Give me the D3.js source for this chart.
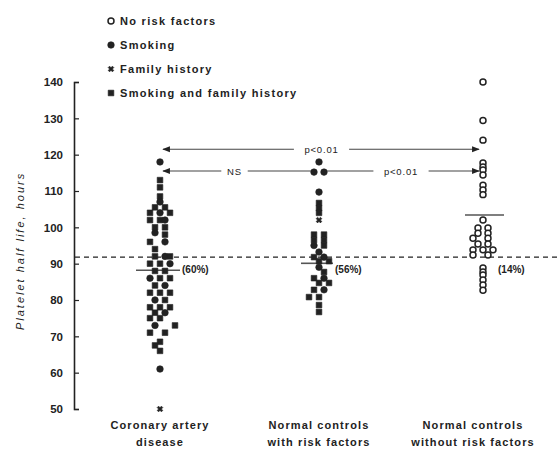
<!DOCTYPE html>
<html>
<head>
<meta charset="utf-8">
<script src="https://cdn.jsdelivr.net/npm/d3@7"></script>
<style>
  body { margin: 0; background: #fff; }
  text { font-family: "Liberation Sans", Arial, sans-serif; fill: #222; }
</style>
</head>
<body>
<div id="content"></div>
<script>
// groups along the x axis
const groups = ["cad", "withRisk", "withoutRisk"]
const groupLabels = [
    ["Coronary artery", "disease", "(52)"],
    ["Normal controls", "with risk factors", "(35)"],
    ["Normal controls", "without risk factors", "(30)"],
]
const groupMeans = [88.2, 90.1, 103.4]
const groupPercent = ["(60%)", "(56%)", "(14%)"]

// points: [value, slot (side-by-side position), risk type]
const cadPoints = [
    [118, 0, "smoke"],
    [113, 0, "both"], [111, 0, "both"], [108.5, 0, "both"], [107, 0, "smoke"],
    [105.5, -1, "both"], [105.5, 1, "both"],
    [104, -2, "both"], [104, 0, "smoke"], [104, 2, "both"],
    [102, -2, "both"], [102, 0, "both"], [102, 1, "smoke"],
    [100, -1, "both"], [100, 1, "both"],
    [98.5, -1, "smoke"], [98, 1, "both"],
    [96, -2, "both"], [96, 1, "smoke"],
    [94, -1, "both"],
    [92, -1, "both"], [92, 1, "smoke"], [92, 2, "both"],
    [90, -2, "both"], [90, 0, "both"], [90, 2, "smoke"],
    [88, -1, "both"], [88, 1, "both"],
    [86, -2, "smoke"], [86, 0, "both"], [86, 2, "both"],
    [84, -1, "both"], [84, 1, "smoke"],
    [82, -2, "both"], [82, 0, "both"], [82, 2, "both"],
    [80, -1, "smoke"], [80, 1, "both"],
    [78, -2, "both"], [78, 0, "both"], [78, 2, "both"],
    [76.5, -1, "both"], [76.5, 1, "smoke"],
    [75, -2, "both"], [75, 0, "both"],
    [73, -1, "smoke"], [73, 3, "both"],
    [71, -2, "both"], [71, 1, "both"],
    [68.5, 0, "both"], [67.5, -1, "both"], [66, 0, "both"],
    [61, 0, "smoke"],
    [50, 0, "family"],
]
const withRiskPoints = [
    [118, 0, "smoke"],
    [115.2, -1, "smoke"], [115.2, 1, "smoke"],
    [109.7, 0, "smoke"],
    [106.7, 0, "both"], [105.3, 0, "both"], [104, 0, "both"], [102, 0, "family"],
    [98, -1, "both"], [98, 1, "both"],
    [96.5, -1, "both"], [96.5, 1, "both"],
    [95, -1, "smoke"], [95, 1, "both"],
    [93.2, 0, "smoke"],
    [91.8, -1, "both"], [91.8, 1, "smoke"],
    [90.7, 0, "both"], [90.7, 2, "both"],
    [89, 0, "smoke"],
    [87.7, 1, "both"],
    [86, -1, "both"], [86, 1, "smoke"],
    [84.7, 0, "both"], [84.7, 2, "both"],
    [82.8, -1, "both"], [82.8, 1, "smoke"],
    [80.8, -2, "both"], [80.8, 0, "both"],
    [78.6, 0, "both"],
    [76.7, 0, "both"],
]
const withoutRiskPoints = [
    [140, 0, "none"], [129.4, 0, "none"], [124, 0, "none"],
    [117.7, 0, "none"], [116.6, 0, "none"], [115.8, 0, "none"], [114.4, 0, "none"],
    [111.6, 0, "none"], [110.3, 0, "none"], [109, 0, "none"],
    [102, 0, "none"],
    [99.8, -1, "none"], [99.8, 1, "none"],
    [98.4, -1, "none"], [98.4, 1, "none"],
    [97, -2, "none"], [97, 1, "none"],
    [95.4, -1, "none"], [95.4, 1, "none"],
    [93.8, -2, "none"], [93.8, 0, "none"], [93.8, 2, "none"],
    [92.4, -2, "none"], [92.4, 1, "none"],
    [88.8, 0, "none"], [87.7, 0, "none"], [86.9, 0, "none"],
    [85.5, 0, "none"], [84.1, 0, "none"], [82.7, 0, "none"],
]
const pointsByGroup = [cadPoints, withRiskPoints, withoutRiskPoints]

const yTicks = [50, 60, 70, 80, 90, 100, 110, 120, 130, 140]
const referenceLine = 91.8

const legendTypes = ["none", "smoke", "family", "both"]
const legendLabels = ["No risk factors", "Smoking", "Family history", "Smoking and family history"]

// comparisons: [from group, to group, y value, label]
const comparisons = [
    ["cad", "withoutRisk", 121.5, "p<0.01"],
    ["cad", "withRisk", 115.5, "NS"],
    ["withRisk", "withoutRisk", 115.5, "p<0.01"],
]

const svg = d3.select("#content").append("svg")
    .attr("width", 558)
    .attr("height", 454)

const yScale = d3.scaleLinear().domain([50, 140]).range([409, 82])
const xScale = d3.scalePoint().domain(groups).range([160, 482])
const groupNudge = d3.scaleOrdinal().domain(groups).range([0, -2, 1])
const slotScale = d3.scaleLinear().domain([-1, 1]).range([-5, 5])
const gx = g => xScale(g) + groupNudge(g)

const ink = "#222"

// axis (ticks point inward)
const yAxis = d3.axisLeft(yScale).tickValues(yTicks).tickSizeInner(-5).tickSizeOuter(-5).tickPadding(11)
const axisG = svg.append("g")
    .attr("transform", "translate(74,0)")
    .call(yAxis)
axisG.select(".domain").attr("stroke", ink).attr("stroke-width", 1.6)
axisG.selectAll(".tick line").attr("stroke", ink).attr("stroke-width", 1.2)
axisG.selectAll(".tick text")
    .style("font-size", "11.5px")
    .style("font-weight", "700")
    .attr("fill", ink)

svg.append("text")
    .attr("transform", `translate(24,${yScale(93.5)}) rotate(-90)`)
    .attr("text-anchor", "middle")
    .style("font-size", "11px")
    .style("font-style", "italic")
    .style("letter-spacing", "2px")
    .text("Platelet half life, hours")

// dashed reference line
svg.append("line")
    .attr("x1", 75).attr("x2", 558)
    .attr("y1", yScale(referenceLine)).attr("y2", yScale(referenceLine))
    .attr("stroke", ink)
    .attr("stroke-width", 1.2)
    .attr("stroke-dasharray", "5,4")

// marker drawing
const symbolPath = {
    none: d3.symbol(d3.symbolCircle, 28)(),
    smoke: d3.symbol(d3.symbolCircle, 34)(),
    family: d3.symbol(d3.symbolCross, 20)(),
    both: d3.symbol(d3.symbolSquare, 32)(),
}
function drawMarker(sel) {
    sel.attr("d", d => symbolPath[d.type])
        .attr("fill", d => d.type === "none" ? "#fff" : ink)
        .attr("stroke", ink)
        .attr("stroke-width", d => d.type === "none" ? 1.5 : 0.6)
}

// mean lines
svg.selectAll(".mean")
    .data(groups)
    .enter().append("line")
    .attr("class", "mean")
    .attr("x1", (g, i) => gx(g) - [24, 18, 18][i])
    .attr("x2", (g, i) => gx(g) + [20, 14, 21][i])
    .attr("y1", (g, i) => yScale(groupMeans[i]))
    .attr("y2", (g, i) => yScale(groupMeans[i]))
    .attr("stroke", "#555")
    .attr("stroke-width", 1.6)

// points
const flatPoints = []
pointsByGroup.forEach((pts, i) => pts.forEach(p => flatPoints.push({group: groups[i], value: p[0], slot: p[1], type: p[2]})))
svg.selectAll(".pt")
    .data(flatPoints)
    .enter().append("path")
    .attr("class", "pt")
    .attr("transform", d => `translate(${gx(d.group) + slotScale(d.slot)},${yScale(d.value)})` + (d.type === "family" ? " rotate(45)" : ""))
    .call(drawMarker)

// percent labels
svg.selectAll(".pct")
    .data(groups)
    .enter().append("text")
    .attr("class", "pct")
    .attr("x", (g, i) => gx(g) + [22, 16, 15][i])
    .attr("y", yScale(87.3))
    .style("font-size", "10px")
    .style("font-weight", "700")
    .text((g, i) => groupPercent[i])

// comparison arrows
const defs = svg.append("defs")
defs.append("marker")
    .attr("id", "arrow")
    .attr("viewBox", "0 0 10 10")
    .attr("refX", 9).attr("refY", 5)
    .attr("markerWidth", 7).attr("markerHeight", 7)
    .attr("orient", "auto-start-reverse")
    .append("path").attr("d", "M0,1 L10,5 L0,9 Z").attr("fill", ink)

comparisons.forEach(([from, to, val, label]) => {
    const x1 = gx(from) + (from === "cad" ? 3 : 8)
    const x2 = gx(to) - (to === "withoutRisk" ? 4 : 8)
    const mid = (gx(from) + gx(to)) / 2 - (from === "cad" && to === "withRisk" ? 5 : 0)
    const half = label.length * 3.6 + 6
    const y = yScale(val)
    svg.append("line")
        .attr("x1", x1).attr("x2", mid - half).attr("y1", y).attr("y2", y)
        .attr("stroke", "#444").attr("stroke-width", 1.1)
        .attr("marker-start", from === "cad" ? "url(#arrow)" : null)
    svg.append("line")
        .attr("x1", mid + half).attr("x2", x2).attr("y1", y).attr("y2", y)
        .attr("stroke", "#444").attr("stroke-width", 1.1)
        .attr("marker-end", to === "withoutRisk" ? "url(#arrow)" : null)
    svg.append("text")
        .attr("x", mid).attr("y", y + 3.5)
        .attr("text-anchor", "middle")
        .style("font-size", "9.5px")
        .style("letter-spacing", "0.8px")
        .text(label)
})

// category labels
const catG = svg.selectAll(".cat")
    .data(groups)
    .enter().append("text")
    .attr("class", "cat")
    .attr("text-anchor", "middle")
    .style("font-size", "11px")
    .style("font-weight", "700")
    .style("letter-spacing", "1.1px")
catG.selectAll("tspan")
    .data((g, i) => groupLabels[i].map(t => ({g, i, t})))
    .enter().append("tspan")
    .attr("x", d => gx(d.g) - [0, 0, 10][d.i])
    .attr("y", (d, j) => 429 + j * 17)
    .text(d => d.t)

// legend
const legend = svg.append("g")
const legendY = d3.scalePoint().domain(legendTypes).range([21, 93])
legend.selectAll("path")
    .data(legendTypes.map(t => ({type: t})))
    .enter().append("path")
    .attr("transform", d => `translate(111,${legendY(d.type)})` + (d.type === "family" ? " rotate(45)" : ""))
    .call(drawMarker)
legend.selectAll("text")
    .data(legendTypes)
    .enter().append("text")
    .attr("x", 120)
    .attr("y", d => legendY(d) + 4)
    .style("font-size", "11px")
    .style("font-weight", "700")
    .style("letter-spacing", "1.3px")
    .text((d, i) => legendLabels[i])
</script>
</body>
</html>
